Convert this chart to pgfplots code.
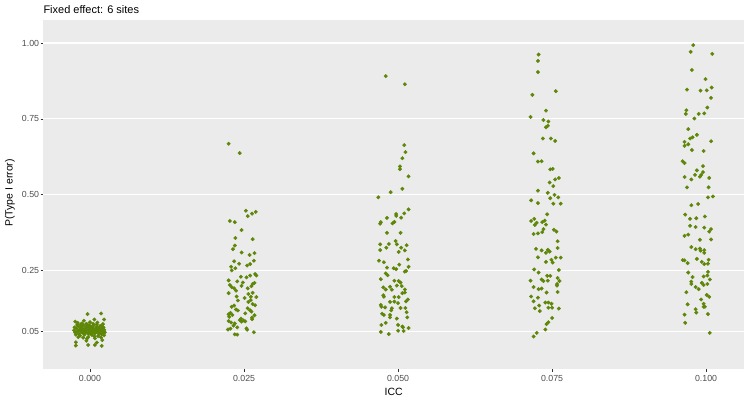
\documentclass[border=0pt]{standalone}
\usepackage{fontspec}
\setmainfont{Liberation Sans}
\usepackage{pgfplots}
\usepackage{pgfplotstable}
\pgfplotsset{compat=1.18}
\definecolor{pt}{RGB}{94,135,8}
\definecolor{bg}{RGB}{235,235,235}
\definecolor{tk}{RGB}{51,51,51}
\definecolor{tl}{RGB}{77,77,77}
\pgfplotstableread{
x y
-0.0004 0.106
0.0018 0.108
-0.0024 0.081
-0.0010 0.084
0.0007 0.088
0.0023 0.088
-0.0023 0.013
-0.0023 0.002
-0.0006 0.018
-0.0003 0.004
0.0008 0.004
0.0011 0.012
0.0019 0.001
0.0020 0.020
-0.0025 0.062
-0.0022 0.058
-0.0020 0.049
-0.0019 0.066
-0.0018 0.041
-0.0017 0.055
-0.0016 0.035
-0.0015 0.072
-0.0014 0.047
-0.0013 0.060
-0.0012 0.052
-0.0011 0.043
-0.0010 0.068
-0.0009 0.038
-0.0008 0.057
-0.0007 0.050
-0.0006 0.063
-0.0005 0.045
-0.0004 0.071
-0.0003 0.054
-0.0002 0.040
-0.0001 0.059
0.0000 0.048
0.0001 0.066
0.0002 0.052
0.0003 0.037
0.0004 0.061
0.0005 0.045
0.0006 0.069
0.0007 0.055
0.0008 0.042
0.0009 0.058
0.0010 0.050
0.0011 0.064
0.0012 0.047
0.0013 0.033
0.0014 0.056
0.0015 0.061
0.0016 0.044
0.0017 0.052
0.0018 0.067
0.0019 0.039
0.0020 0.057
0.0021 0.049
0.0022 0.062
0.0023 0.054
0.0024 0.046
-0.0024 0.045
-0.0021 0.070
-0.0019 0.030
-0.0016 0.053
-0.0013 0.075
-0.0011 0.028
-0.0008 0.046
-0.0006 0.074
-0.0003 0.030
-0.0001 0.067
0.0001 0.043
0.0003 0.057
0.0005 0.074
0.0007 0.033
0.0009 0.049
0.0011 0.072
0.0013 0.053
0.0015 0.040
0.0017 0.060
0.0019 0.047
0.0021 0.073
0.0023 0.036
-0.0026 0.052
-0.0023 0.038
-0.0015 0.064
-0.0009 0.052
-0.0002 0.062
0.0004 0.050
0.0010 0.056
0.0016 0.066
0.0022 0.043
-0.0020 0.077
0.0000 0.079
0.0012 0.078
-0.0005 0.025
0.0008 0.026
0.0018 0.029
0.0225 0.668
0.0243 0.637
0.0253 0.447
0.0256 0.429
0.0263 0.437
0.0269 0.443
0.0227 0.413
0.0235 0.409
0.0246 0.383
0.0236 0.357
0.0264 0.353
0.0235 0.332
0.0232 0.320
0.0246 0.309
0.0259 0.301
0.0267 0.307
0.0234 0.280
0.0266 0.282
0.0229 0.262
0.0236 0.257
0.0230 0.250
0.0242 0.272
0.0255 0.266
0.0260 0.271
0.0268 0.238
0.0270 0.233
0.0245 0.229
0.0254 0.227
0.0260 0.233
0.0225 0.217
0.0239 0.214
0.0248 0.210
0.0264 0.205
0.0267 0.209
0.0227 0.202
0.0230 0.195
0.0246 0.199
0.0262 0.198
0.0234 0.191
0.0237 0.183
0.0256 0.191
0.0225 0.175
0.0257 0.172
0.0264 0.176
0.0238 0.164
0.0251 0.159
0.0261 0.163
0.0270 0.162
0.0240 0.151
0.0257 0.146
0.0261 0.152
0.0264 0.139
0.0268 0.135
0.0230 0.130
0.0234 0.134
0.0237 0.121
0.0240 0.118
0.0256 0.125
0.0262 0.114
0.0228 0.110
0.0225 0.105
0.0231 0.103
0.0252 0.108
0.0267 0.102
0.0263 0.094
0.0245 0.091
0.0249 0.085
0.0252 0.082
0.0225 0.083
0.0229 0.078
0.0235 0.075
0.0239 0.062
0.0254 0.059
0.0255 0.054
0.0224 0.055
0.0228 0.058
0.0243 0.086
0.0263 0.089
0.0266 0.046
0.0235 0.039
0.0239 0.038
0.0226 0.097
0.0246 0.081
0.0233 0.068
0.0260 0.118
0.0480 0.891
0.0511 0.864
0.0510 0.663
0.0512 0.640
0.0507 0.620
0.0503 0.593
0.0503 0.584
0.0517 0.560
0.0507 0.519
0.0488 0.508
0.0468 0.491
0.0517 0.451
0.0510 0.438
0.0497 0.436
0.0497 0.430
0.0505 0.424
0.0482 0.423
0.0472 0.409
0.0471 0.404
0.0494 0.410
0.0491 0.405
0.0482 0.374
0.0504 0.374
0.0496 0.347
0.0471 0.336
0.0485 0.337
0.0498 0.336
0.0514 0.333
0.0481 0.325
0.0505 0.325
0.0471 0.317
0.0501 0.311
0.0511 0.316
0.0469 0.282
0.0477 0.277
0.0516 0.286
0.0502 0.269
0.0482 0.259
0.0493 0.257
0.0497 0.254
0.0517 0.262
0.0511 0.246
0.0513 0.248
0.0480 0.240
0.0483 0.234
0.0472 0.221
0.0494 0.216
0.0501 0.215
0.0504 0.210
0.0498 0.200
0.0506 0.198
0.0476 0.194
0.0480 0.187
0.0487 0.196
0.0490 0.186
0.0511 0.187
0.0511 0.177
0.0507 0.175
0.0476 0.168
0.0477 0.163
0.0494 0.162
0.0501 0.162
0.0516 0.154
0.0513 0.148
0.0487 0.146
0.0494 0.147
0.0500 0.142
0.0472 0.136
0.0473 0.130
0.0479 0.128
0.0490 0.125
0.0504 0.126
0.0512 0.126
0.0489 0.118
0.0474 0.107
0.0477 0.103
0.0487 0.103
0.0487 0.095
0.0514 0.112
0.0515 0.095
0.0498 0.091
0.0473 0.070
0.0480 0.077
0.0500 0.070
0.0507 0.065
0.0508 0.062
0.0517 0.060
0.0500 0.051
0.0509 0.050
0.0472 0.047
0.0485 0.040
0.0728 0.962
0.0727 0.941
0.0727 0.904
0.0718 0.829
0.0756 0.841
0.0740 0.777
0.0715 0.756
0.0736 0.746
0.0744 0.741
0.0743 0.727
0.0740 0.722
0.0735 0.685
0.0748 0.685
0.0755 0.677
0.0720 0.636
0.0727 0.609
0.0733 0.610
0.0747 0.583
0.0751 0.585
0.0755 0.550
0.0761 0.555
0.0746 0.540
0.0752 0.528
0.0727 0.513
0.0743 0.506
0.0754 0.499
0.0760 0.491
0.0747 0.488
0.0716 0.481
0.0727 0.472
0.0752 0.470
0.0764 0.470
0.0742 0.435
0.0721 0.420
0.0716 0.413
0.0725 0.407
0.0722 0.400
0.0734 0.409
0.0738 0.414
0.0740 0.401
0.0736 0.386
0.0753 0.384
0.0757 0.378
0.0720 0.370
0.0727 0.372
0.0734 0.376
0.0759 0.346
0.0759 0.324
0.0724 0.321
0.0733 0.316
0.0743 0.318
0.0746 0.312
0.0740 0.308
0.0727 0.293
0.0756 0.292
0.0764 0.292
0.0749 0.285
0.0751 0.276
0.0740 0.278
0.0721 0.253
0.0728 0.243
0.0761 0.251
0.0742 0.232
0.0747 0.232
0.0759 0.225
0.0762 0.215
0.0715 0.216
0.0733 0.220
0.0736 0.215
0.0743 0.216
0.0758 0.205
0.0758 0.200
0.0720 0.195
0.0728 0.188
0.0733 0.190
0.0759 0.179
0.0741 0.177
0.0716 0.164
0.0727 0.160
0.0720 0.148
0.0739 0.144
0.0744 0.144
0.0749 0.140
0.0729 0.134
0.0722 0.125
0.0730 0.116
0.0744 0.127
0.0750 0.127
0.0761 0.124
0.0750 0.093
0.0744 0.079
0.0741 0.073
0.0739 0.055
0.0725 0.044
0.0720 0.032
0.0979 0.993
0.0975 0.971
0.1010 0.964
0.0977 0.911
0.0999 0.881
0.0969 0.846
0.0991 0.843
0.1001 0.844
0.1009 0.853
0.1008 0.819
0.1002 0.787
0.0968 0.778
0.0967 0.766
0.0988 0.766
0.0997 0.768
0.0981 0.751
0.0971 0.716
0.0974 0.685
0.0978 0.689
0.0985 0.697
0.0965 0.674
0.0971 0.666
0.0965 0.661
0.1008 0.676
0.0977 0.647
0.0996 0.644
0.0962 0.610
0.0965 0.604
0.0995 0.594
0.0985 0.580
0.0995 0.574
0.0982 0.565
0.0992 0.565
0.0990 0.559
0.0965 0.558
0.0976 0.550
0.1005 0.555
0.0969 0.524
0.1004 0.524
0.1003 0.491
0.1011 0.494
0.0976 0.465
0.0987 0.469
0.0966 0.434
0.0998 0.428
0.0974 0.420
0.0984 0.422
0.0974 0.397
0.0983 0.393
0.0997 0.391
0.1008 0.386
0.1005 0.378
0.0965 0.364
0.0971 0.368
0.0990 0.351
0.1008 0.352
0.0976 0.327
0.0983 0.320
0.0990 0.322
0.0991 0.315
0.0997 0.317
0.0997 0.308
0.0962 0.284
0.0965 0.283
0.0970 0.274
0.0985 0.288
0.0993 0.278
0.0997 0.271
0.1004 0.285
0.1003 0.272
0.0971 0.243
0.1003 0.245
0.0996 0.230
0.1002 0.233
0.1006 0.220
0.0978 0.228
0.0976 0.213
0.0976 0.205
0.0983 0.195
0.0988 0.188
0.0993 0.209
0.0996 0.202
0.1002 0.205
0.0968 0.178
0.1001 0.169
0.1005 0.163
0.0992 0.154
0.0996 0.140
0.0998 0.130
0.0996 0.130
0.0970 0.138
0.0983 0.122
0.0984 0.111
0.0965 0.104
0.1003 0.106
0.0966 0.077
0.1006 0.044
}\pts
\begin{document}
\begin{tikzpicture}
\useasboundingbox (0,0) rectangle (750bp,400bp);
\begin{axis}[
 at={(43.3bp,30.7bp)}, anchor=south west,
 scale only axis, width=700.7bp, height=349.3bp,
 xmin=-0.00758, xmax=0.10615, ymin=-0.0762, ymax=1.0759,
 axis background/.style={fill=bg},
 axis line style={draw=none},
 tick pos=left, tick align=outside, major tick length=2.75bp,
 tick style={tk, line width=0.55bp},
 xtick={0,0.025,0.05,0.075,0.1}, xticklabels={0.000,0.025,0.050,0.075,0.100},
 ytick={0.05,0.25,0.5,0.75,1}, yticklabels={0.05,0.25,0.50,0.75,1.00},
 minor tick num=0,
 ymajorgrids, xmajorgrids=false, major grid style={white, line width=1.07bp},
 ticklabel style={font=\fontsize{8.8bp}{10bp}\selectfont, text=tl, inner sep=0pt},
 xticklabel style={anchor=base, yshift=-9.45bp},
 yticklabel style={anchor=east, xshift=-1.25bp},
 clip=false,
]
\addplot[only marks, color=pt, mark=*, mark size=1.75bp, mark options={solid, line width=0.4bp}] table[x=x, y=y] {\pts};
\end{axis}
\node[anchor=base west, font=\fontsize{11bp}{13bp}\selectfont, inner sep=0pt] at (43.3bp,386bp) {Fixed effect: 6 sites};
\node[anchor=base, font=\fontsize{10.5bp}{12bp}\selectfont, inner sep=0pt] at (393.65bp,5bp) {ICC};
\node[rotate=90, anchor=center, font=\fontsize{10.5bp}{12bp}\selectfont, inner sep=0pt] at (10bp,207bp) {P(Type I error)};
\end{tikzpicture}
\end{document}
